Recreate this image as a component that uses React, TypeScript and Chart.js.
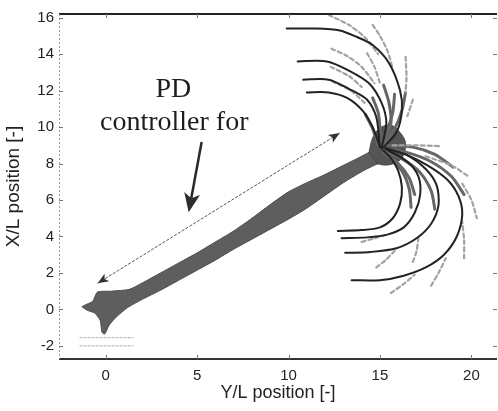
import React, { useEffect, useRef } from 'react';
import { Chart, registerables } from 'chart.js';
Chart.register(...registerables);

type P = [number, number];

const xTicks = [0, 5, 10, 15, 20];
const yTicks = [-2, 0, 2, 4, 6, 8, 10, 12, 14, 16];
const xRange: P = [-2.55, 21.4];
const yRange: P = [-2.72, 16.2];

const trunkOutline: P[] = [
  [-1.3, 0.15], [-1.0, 0.3], [-0.7, 0.45], [-0.45, 0.95], [0.3, 1.0], [1.3, 1.1],
  [2.0, 1.45], [3.0, 2.0], [4.0, 2.55], [5.0, 3.1], [6.0, 3.7], [7.0, 4.3], [8.0, 5.0],
  [9.0, 5.75], [10.0, 6.45], [11.0, 6.95], [12.0, 7.4], [13.0, 7.9], [14.0, 8.4],
  [14.5, 8.7], [14.7, 9.3], [15.0, 9.65], [15.5, 9.75], [16.0, 9.45], [16.3, 9.0],
  [16.0, 8.4], [15.5, 8.1], [14.8, 7.95], [14.0, 7.55], [13.0, 6.95], [12.0, 6.25],
  [11.0, 5.55], [10.0, 4.95], [9.0, 4.4], [8.0, 3.85], [7.0, 3.3], [6.0, 2.7],
  [5.0, 2.15], [4.0, 1.6], [3.0, 1.05], [2.0, 0.55], [1.2, 0.1], [0.6, -0.4],
  [0.2, -0.85], [-0.05, -1.35], [-0.2, -1.25], [-0.3, -0.6], [-0.6, -0.2], [-1.0, -0.05],
  [-1.3, 0.15],
];

const knotBlob: P[] = [
  [14.4, 8.6], [14.6, 9.4], [15.0, 9.95], [15.6, 10.1], [16.1, 9.7], [16.4, 9.1],
  [16.2, 8.3], [15.6, 7.95], [14.9, 8.0], [14.4, 8.6],
];

const upperFanPaths: P[][] = [
  [[9.9, 15.4], [11.5, 15.4], [12.8, 15.3], [13.6, 15.0], [14.6, 14.5], [15.5, 13.5], [16.1, 12.0], [16.2, 10.9], [15.9, 9.7], [15.1, 8.8]],
  [[10.5, 13.6], [12.1, 13.6], [13.3, 13.1], [14.4, 12.4], [15.1, 11.3], [15.35, 10.2], [15.1, 8.9]],
  [[10.8, 12.6], [12.2, 12.6], [13.3, 12.1], [14.3, 11.5], [14.8, 10.55], [15.0, 8.9]],
  [[11.0, 11.9], [12.2, 11.9], [13.2, 11.6], [14.05, 10.9], [14.6, 10.0], [15.0, 8.9]],
];

const upperFanGhosts: P[][] = [
  [[12.2, 16.15], [13.3, 15.6], [14.2, 14.9], [14.9, 14.0]],
  [[14.6, 15.6], [15.0, 15.0], [15.4, 14.2], [15.7, 13.2]],
  [[16.4, 13.85], [16.45, 12.8], [16.4, 11.9]],
  [[12.35, 14.3], [13.2, 13.9], [14.0, 13.3], [14.7, 12.4]],
  [[14.3, 14.05], [14.7, 13.3], [15.0, 12.4]],
  [[12.3, 13.3], [13.3, 12.8], [14.0, 12.2]],
  [[16.8, 11.5], [16.5, 10.6]],
  [[12.4, 12.5], [13.4, 12.0], [14.2, 11.3]],
];

const upperBundle: P[][] = [
  [[15.1, 8.9], [15.4, 9.8], [15.7, 10.8], [15.8, 11.8]],
  [[15.0, 8.9], [15.0, 9.9], [14.9, 10.8], [14.6, 11.6]],
  [[15.2, 9.0], [15.8, 9.9], [16.2, 10.9], [16.4, 11.9]],
  [[15.2, 9.0], [15.6, 10.2], [15.5, 11.3], [15.2, 12.3]],
  [[14.9, 9.0], [14.6, 9.9], [14.2, 10.7]],
];

const lowerFanPaths: P[][] = [
  [[12.7, 4.3], [14.0, 4.35], [15.0, 4.5], [15.7, 5.0], [16.1, 5.8], [16.2, 6.7], [16.0, 7.6], [15.6, 8.3], [15.2, 8.7]],
  [[12.9, 3.9], [14.3, 3.95], [15.4, 4.1], [16.3, 4.5], [16.9, 5.3], [17.2, 6.3], [17.1, 7.3], [16.5, 8.1], [15.4, 8.75]],
  [[13.1, 3.1], [14.5, 3.15], [15.9, 3.35], [17.0, 3.9], [17.8, 4.7], [18.2, 5.7], [18.1, 6.8], [17.5, 7.7], [16.4, 8.5], [15.3, 8.8]],
  [[13.45, 1.6], [15.0, 1.6], [16.3, 1.85], [17.5, 2.3], [18.5, 3.0], [19.2, 4.0], [19.5, 5.2], [19.3, 6.2], [18.7, 7.1], [17.6, 7.9], [16.4, 8.5], [15.3, 8.85]],
];

const lowerFanGhosts: P[][] = [
  [[15.7, 9.0], [17.0, 9.0], [18.3, 8.95]],
  [[17.5, 8.4], [18.9, 7.9], [19.9, 7.25]],
  [[19.5, 6.9], [20.0, 6.0], [20.3, 5.0]],
  [[19.6, 2.8], [19.6, 3.8], [19.5, 4.8]],
  [[17.8, 1.3], [18.2, 2.0], [18.6, 2.8]],
  [[15.6, 0.9], [16.3, 1.4], [16.9, 1.9]],
  [[14.0, 3.7], [14.7, 3.9], [15.4, 4.1]],
  [[14.8, 2.3], [15.3, 2.7], [15.8, 3.2]],
  [[16.8, 2.6], [17.0, 3.2], [17.1, 3.9]],
];

const lowerBundle: P[][] = [
  [[15.3, 8.8], [16.5, 8.6], [17.8, 8.1], [18.9, 7.3], [19.6, 6.3]],
  [[15.3, 8.7], [16.3, 8.2], [17.2, 7.5], [17.8, 6.5], [18.0, 5.5]],
  [[15.2, 8.6], [16.0, 8.0], [16.6, 7.2], [16.9, 6.3]],
  [[15.4, 9.0], [16.8, 8.9], [18.0, 8.5], [19.0, 7.8]],
  [[15.3, 8.6], [16.2, 7.6], [16.6, 6.6], [16.7, 5.6]],
];

const startMarkers: P[][] = [
  [[-1.4, -1.55], [1.5, -1.55]],
  [[-1.4, -2.0], [1.5, -2.0]],
];

const thinArrow: P[] = [[-0.44, 1.43], [12.8, 9.67]];
const boldArrow: P[] = [[5.25, 9.18], [4.54, 5.33]];
const labelLines = ['PD', 'controller for'];
const labelAnchors: P[] = [[3.7, 11.65], [3.75, 9.85]];

const xTitle = 'Y/L position [-]';
const yTitle = 'X/L position [-]';

const toXY = (pts: P[]) => pts.map(([x, y]) => ({ x, y }));

function lineSet(pts: P[], color: string, width: number, dash: number[] = [], order = 1) {
  return {
    type: 'line' as const,
    data: toXY(pts),
    borderColor: color,
    borderWidth: width,
    borderDash: dash,
    borderCapStyle: 'round' as const,
    borderJoinStyle: 'round' as const,
    tension: 0.28,
    pointRadius: 0,
    fill: false,
    order,
  };
}

function shapeSet(pts: P[], fillColor: string, edge: string, order: number, tension = 0.2) {
  return {
    type: 'line' as const,
    data: toXY(pts),
    borderColor: edge,
    backgroundColor: fillColor,
    borderWidth: 1,
    tension,
    pointRadius: 0,
    fill: 'shape',
    order,
  };
}

function head(ctx: CanvasRenderingContext2D, tip: number[], from: number[], len: number, hw: number) {
  const a = Math.atan2(tip[1] - from[1], tip[0] - from[0]);
  const c = Math.cos(a), s = Math.sin(a);
  ctx.beginPath();
  ctx.moveTo(tip[0], tip[1]);
  ctx.lineTo(tip[0] - len * c - hw * s, tip[1] - len * s + hw * c);
  ctx.lineTo(tip[0] - 0.75 * len * c, tip[1] - 0.75 * len * s);
  ctx.lineTo(tip[0] - len * c + hw * s, tip[1] - len * s - hw * c);
  ctx.closePath();
  ctx.fill();
}

const overlay = {
  id: 'overlay',
  afterDatasetsDraw(chart: any) {
    const { ctx, chartArea: a, scales } = chart;
    const xs = scales.x, ys = scales.y;
    const px = (p: P) => [xs.getPixelForValue(p[0]), ys.getPixelForValue(p[1])];
    ctx.save();
    const t0 = px(thinArrow[0]), t1 = px(thinArrow[1]);
    ctx.strokeStyle = '#555';
    ctx.fillStyle = '#333';
    ctx.lineWidth = 1;
    ctx.setLineDash([3, 1.5]);
    ctx.beginPath();
    ctx.moveTo(t0[0], t0[1]);
    ctx.lineTo(t1[0], t1[1]);
    ctx.stroke();
    ctx.setLineDash([]);
    head(ctx, t0, t1, 11, 4.5);
    head(ctx, t1, t0, 11, 4.5);
    const b0 = px(boldArrow[0]), b1 = px(boldArrow[1]);
    const ang = Math.atan2(b1[1] - b0[1], b1[0] - b0[0]);
    ctx.strokeStyle = '#2a2a2a';
    ctx.fillStyle = '#2e2e2e';
    ctx.lineWidth = 2.5;
    ctx.beginPath();
    ctx.moveTo(b0[0], b0[1]);
    ctx.lineTo(b1[0] - 14 * Math.cos(ang), b1[1] - 14 * Math.sin(ang));
    ctx.stroke();
    head(ctx, b1, b0, 19, 8);
    ctx.fillStyle = '#1e1e1e';
    ctx.font = '28px "Liberation Serif", serif';
    ctx.textAlign = 'center';
    ctx.textBaseline = 'alphabetic';
    labelLines.forEach((t, i) => {
      const p = px(labelAnchors[i]);
      ctx.fillText(t, p[0], p[1]);
    });
    ctx.lineWidth = 2;
    ctx.strokeStyle = '#222';
    ctx.beginPath();
    ctx.moveTo(a.left, a.top);
    ctx.lineTo(a.right, a.top);
    ctx.stroke();
    ctx.strokeStyle = '#333';
    ctx.beginPath();
    ctx.moveTo(a.left, a.bottom);
    ctx.lineTo(a.right, a.bottom);
    ctx.stroke();
    ctx.lineWidth = 1;
    ctx.strokeStyle = '#999';
    ctx.setLineDash([2, 2]);
    ctx.beginPath();
    ctx.moveTo(a.left + 0.5, a.top);
    ctx.lineTo(a.left + 0.5, a.bottom);
    ctx.stroke();
    ctx.setLineDash([]);
    ctx.strokeStyle = '#777';
    xTicks.forEach((v) => {
      const X = Math.round(xs.getPixelForValue(v)) + 0.5;
      ctx.beginPath();
      ctx.moveTo(X, a.bottom);
      ctx.lineTo(X, a.bottom - 4);
      ctx.moveTo(X, a.top);
      ctx.lineTo(X, a.top + 4);
      ctx.stroke();
    });
    yTicks.forEach((v) => {
      const Y = Math.round(ys.getPixelForValue(v)) + 0.5;
      ctx.beginPath();
      ctx.moveTo(a.left, Y);
      ctx.lineTo(a.left + 4, Y);
      ctx.moveTo(a.right, Y);
      ctx.lineTo(a.right - 4, Y);
      ctx.stroke();
    });
    ctx.restore();
  },
};

export default function App() {
  const ref = useRef<HTMLCanvasElement>(null);
  useEffect(() => {
    if (!ref.current) return;
    const black = '#222';
    const ghost = '#a3a3a3';
    const datasets: any[] = [
      shapeSet(trunkOutline, '#5e5e5e', '#4d4d4d', 10),
      shapeSet(knotBlob, '#555', '#4a4a4a', 9, 0.35),
      ...startMarkers.map((p) => ({ ...lineSet(p, '#aaa', 1, [2, 2], 5), tension: 0 })),
      ...upperBundle.map((p) => lineSet(p, '#666', 3, [], 4)),
      ...lowerBundle.map((p) => lineSet(p, '#666', 3, [], 4)),
      ...upperFanGhosts.map((p) => lineSet(p, ghost, 2.2, [4, 3], 3)),
      ...lowerFanGhosts.map((p) => lineSet(p, ghost, 2.2, [4, 3], 3)),
      ...upperFanPaths.map((p) => lineSet(p, black, 2, [], 1)),
      ...lowerFanPaths.map((p) => lineSet(p, black, 2, [], 1)),
    ];
    const font = { family: '"Liberation Sans", Arial, sans-serif', size: 15 };
    const chart = new Chart(ref.current, {
      type: 'line',
      data: { datasets },
      options: {
        animation: false,
        responsive: false,
        maintainAspectRatio: false,
        layout: { padding: { top: 14, right: 1, left: 0, bottom: 0 } },
        plugins: { legend: { display: false }, tooltip: { enabled: false } },
        elements: { point: { radius: 0 } },
        scales: {
          x: {
            type: 'linear',
            min: xRange[0],
            max: xRange[1],
            afterBuildTicks: (s: any) => { s.ticks = xTicks.map((v) => ({ value: v })); },
            afterFit: (s: any) => { s.height = 52; },
            grid: { display: false, drawTicks: false },
            border: { display: false },
            ticks: { font, color: '#222', padding: 8, maxRotation: 0, autoSkip: false },
            title: { display: true, text: xTitle, color: '#222', font: { ...font, size: 18 }, padding: { top: 0, bottom: 7 } },
          },
          y: {
            type: 'linear',
            min: yRange[0],
            max: yRange[1],
            afterBuildTicks: (s: any) => { s.ticks = yTicks.map((v) => ({ value: v })); },
            afterFit: (s: any) => { s.width = 59; },
            grid: { display: false, drawTicks: false },
            border: { display: false },
            ticks: { font, color: '#222', padding: 5, autoSkip: false },
            title: { display: true, text: yTitle, color: '#222', font: { ...font, size: 19 }, padding: { top: 2, bottom: 0 } },
          },
        },
      },
      plugins: [overlay],
    } as any);
    return () => chart.destroy();
  }, []);
  return (
    <div style={{ position: 'absolute', left: 0, top: 0, width: 498, height: 411, background: '#fff' }}>
      <canvas ref={ref} width={498} height={411} style={{ display: 'block' }} />
    </div>
  );
}
